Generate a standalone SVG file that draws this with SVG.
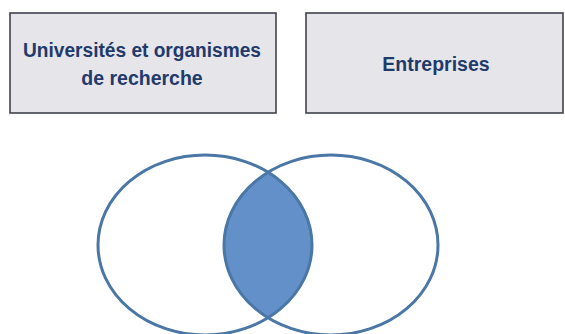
<svg xmlns="http://www.w3.org/2000/svg" width="565" height="334" viewBox="0 0 565 334">
  <style>
    .box { fill: #E6E6EA; stroke: #3F434B; stroke-width: 1.6; }
    .lbl { font-family: "Liberation Sans", Arial, sans-serif; font-weight: bold; font-size: 19.5px; fill: #1F3A6B; text-anchor: middle; }
    .circ { fill: none; stroke: #4A77A6; stroke-width: 3; }
    .lens { fill: #6390C8; }
  </style>
  <rect x="0" y="0" width="565" height="334" fill="#FFFFFF"/>
  <g id="universites">
    <rect class="box" x="10" y="13" width="266" height="100"/>
    <text class="lbl" x="142" y="57" textLength="238" lengthAdjust="spacingAndGlyphs">Universités et organismes</text>
    <text class="lbl" x="142" y="85">de recherche</text>
  </g>
  <g id="entreprises">
    <rect class="box" x="306" y="13" width="257" height="100"/>
    <text class="lbl" x="436" y="71">Entreprises</text>
  </g>
  <g id="venn">
    <path id="intersection" class="lens" d="M268,172.3 A107,90 0 0,0 268,317.7 A107,90 0 0,0 268,172.3 Z"/>
    <ellipse id="cercle-gauche" class="circ" cx="205" cy="245" rx="107" ry="90"/>
    <ellipse id="cercle-droit" class="circ" cx="331" cy="245" rx="107" ry="90"/>
  </g>
</svg>
